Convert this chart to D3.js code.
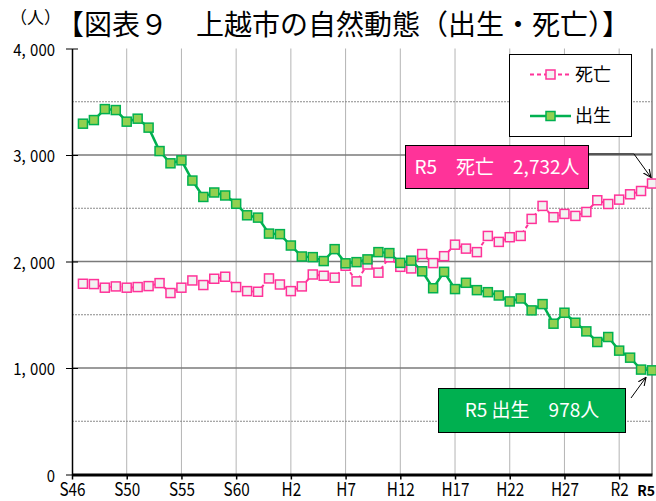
<!DOCTYPE html>
<html><head><meta charset="utf-8">
<script src="https://cdn.jsdelivr.net/npm/d3@7"></script>
<style>
body{margin:0;background:#fff}
svg{display:block}
text{font-family:"Noto Sans CJK JP","Noto Sans",sans-serif}
</style>
</head><body>
<svg id="c" width="656" height="501"></svg>
<script>
const years = [1971,1972,1973,1974,1975,1976,1977,1978,1979,1980,1981,1982,1983,1984,1985,1986,1987,1988,1989,1990,1991,1992,1993,1994,1995,1996,1997,1998,1999,2000,2001,2002,2003,2004,2005,2006,2007,2008,2009,2010,2011,2012,2013,2014,2015,2016,2017,2018,2019,2020,2021,2022,2023];
const births = [3294,3328,3431,3422,3313,3341,3257,3037,2922,2950,2760,2606,2648,2620,2542,2434,2412,2262,2257,2150,2047,2041,2004,2116,1983,1994,2020,2088,2079,1987,2008,1908,1749,1903,1741,1800,1731,1712,1681,1625,1653,1541,1600,1416,1519,1425,1344,1244,1291,1163,1097,985,978];
const deaths = [1791,1788,1754,1766,1754,1760,1769,1797,1704,1754,1822,1779,1838,1857,1760,1722,1716,1841,1784,1722,1766,1878,1866,1848,1960,1813,1972,1895,2040,1950,1935,2070,1985,2050,2158,2121,2088,2240,2184,2228,2240,2400,2522,2416,2447,2428,2465,2575,2540,2581,2631,2662,2732];
const xTickYears = [1970,1975,1980,1985,1990,1995,2000,2005,2010,2015,2020,2023];
const xTickLabels = ["S46","S50","S55","S60","H2","H7","H12","H17","H22","H27","R2","R5"];
const yTicks = [0,1000,2000,3000,4000];
const yMinor = [500,1500,2500,3500];
const seriesNames = ["死亡","出生"];

const PINK = "#FF3399", GREEN = "#00B050", LGREEN = "#92D050";
const svg = d3.select("#c");
const x = d3.scaleLinear().domain([1970, 2023]).range([72, 652]);
const y = d3.scaleLinear().domain([0, 4000]).range([474.5, 48.5]);
const fmt = d3.format(",");

// defs
const defs = svg.append("defs");
defs.append("marker").attr("id","arr").attr("viewBox","0 0 10 10").attr("refX",9).attr("refY",5)
  .attr("markerWidth",9).attr("markerHeight",9).attr("markerUnits","userSpaceOnUse").attr("orient","auto")
  .append("path").attr("d","M0,1 L9,5 L0,9").attr("fill","none").attr("stroke","#000").attr("stroke-width",1.2);

// vertical gridlines
svg.append("g").selectAll("line").data(xTickYears.filter(d => d > 1970 && d < 2023)).join("line")
  .attr("x1", d => x(d)).attr("x2", d => x(d)).attr("y1", y(4000)).attr("y2", y(0))
  .attr("stroke", "#b4b4b4").attr("stroke-width", 1);
// minor dotted
svg.append("g").selectAll("line").data(yMinor).join("line")
  .attr("x1", x(1970)).attr("x2", x(2023)).attr("y1", d => y(d)).attr("y2", d => y(d))
  .attr("stroke", "#8a8a8a").attr("stroke-width", 1).attr("stroke-dasharray", "2,1");
// major
svg.append("g").selectAll("line").data(yTicks.filter(d => d > 0 && d < 4000)).join("line")
  .attr("x1", x(1970)).attr("x2", x(2023)).attr("y1", d => y(d)).attr("y2", d => y(d))
  .attr("stroke", "#7a7a7a").attr("stroke-width", 1.5);
// right border
svg.append("line").attr("x1", x(2023)).attr("x2", x(2023)).attr("y1", y(4000)).attr("y2", y(0))
  .attr("stroke", "#808080").attr("stroke-width", 1.5);

// y axis
const yAxis = d3.axisLeft(y).tickValues(yTicks).tickSizeInner(6).tickSizeOuter(0).tickPadding(11)
  .tickFormat(d => fmt(d));
const gy = svg.append("g").attr("transform", `translate(${x(1970)},0)`).call(yAxis);
gy.select(".domain").attr("stroke", "#000").attr("stroke-width", 1.5);
gy.selectAll(".tick line").attr("x2", -6).attr("x1", 6).attr("stroke", "#000").attr("stroke-width", 1);
gy.selectAll(".tick text").attr("font-size", 17).attr("fill", "#000")
  .attr("x", -17 / 0.88).attr("dy", "0.4em").attr("transform", "scale(0.88,1)")
  .each(function(d){
    const s = fmt(d); const el = d3.select(this); el.text(null);
    const parts = s.split(",");
    if (parts.length > 1) {
      el.append("tspan").text(parts[0] + ",");
      el.append("tspan").attr("dx", 5).text(parts[1]);
    } else el.text(s);
  });

// x axis
const xAxis = d3.axisBottom(x).tickValues(xTickYears.slice(0, -1)).tickSizeInner(5).tickSizeOuter(0)
  .tickFormat((d, i) => xTickLabels[i]).tickPadding(4);
const gx = svg.append("g").attr("transform", `translate(0,${y(0)})`).call(xAxis);
gx.select(".domain").attr("stroke", "#000").attr("stroke-width", 3);
gx.selectAll(".tick line").attr("stroke", "#000").attr("stroke-width", 1.5);
gx.selectAll(".tick text").attr("font-size", 18).attr("fill", "#000").attr("transform", "scale(0.85,1)");
svg.append("text").attr("x", 655).attr("y", 496).attr("text-anchor", "end")
  .attr("font-size", 14).attr("font-weight", "bold").text(xTickLabels[xTickLabels.length - 1]);

// lines
const line = vals => d3.line().x((d, i) => x(years[i])).y(d => y(d))(vals);
svg.append("path").attr("d", line(deaths)).attr("fill", "none").attr("stroke", PINK)
  .attr("stroke-width", 2).attr("stroke-dasharray", "4,3");
svg.append("g").selectAll("rect").data(deaths).join("rect")
  .attr("x", (d, i) => x(years[i]) - 4.5).attr("y", d => y(d) - 4.5).attr("width", 9).attr("height", 9)
  .attr("fill", "#F2F2F2").attr("stroke", PINK).attr("stroke-width", 1.5);
svg.append("path").attr("d", line(births)).attr("fill", "none").attr("stroke", GREEN).attr("stroke-width", 2.5);
svg.append("g").selectAll("rect").data(births).join("rect")
  .attr("x", (d, i) => x(years[i]) - 4.5).attr("y", d => y(d) - 4.5).attr("width", 9).attr("height", 9)
  .attr("fill", LGREEN).attr("stroke", GREEN).attr("stroke-width", 1.5);

// legend
const lg = svg.append("g");
lg.append("rect").attr("x", 509.5).attr("y", 54.5).attr("width", 122).attr("height", 82)
  .attr("fill", "#fff").attr("stroke", "#000").attr("stroke-width", 1);
const legItems = [
  {name: seriesNames[0], y: 74.5, stroke: PINK, fill: "#F2F2F2", dash: "4,3", w: 2},
  {name: seriesNames[1], y: 116, stroke: GREEN, fill: LGREEN, dash: null, w: 2.5}
];
legItems.forEach(it => {
  lg.append("line").attr("x1", 530).attr("x2", 571).attr("y1", it.y).attr("y2", it.y)
    .attr("stroke", it.stroke).attr("stroke-width", it.w).attr("stroke-dasharray", it.dash);
  lg.append("rect").attr("x", 546).attr("y", it.y - 4.5).attr("width", 9).attr("height", 9)
    .attr("fill", it.fill).attr("stroke", it.stroke).attr("stroke-width", 1.5);
  lg.append("text").attr("x", 575).attr("y", it.y).attr("dy", "0.36em").attr("font-size", 18).text(it.name);
});

// callouts
const last = years.length - 1;
svg.append("line").attr("x1", 588).attr("x2", 634).attr("y1", 154).attr("y2", 154).attr("stroke", "#555").attr("stroke-width", 2);
svg.append("line").attr("x1", 634).attr("x2", x(2023)).attr("y1", 154).attr("y2", 154).attr("stroke", "#222").attr("stroke-width", 1);
svg.append("line").attr("x1", 634).attr("y1", 154).attr("x2", x(years[last]) - 1).attr("y2", y(deaths[last]) - 6)
  .attr("stroke", "#000").attr("stroke-width", 1).attr("marker-end", "url(#arr)");
svg.append("rect").attr("x", 405.5).attr("y", 145.5).attr("width", 183).attr("height", 43)
  .attr("fill", PINK).attr("stroke", "#000").attr("stroke-width", 1);
svg.append("text").attr("x", 497).attr("y", 167).attr("dy", "0.35em").attr("text-anchor", "middle")
  .attr("font-size", 19).attr("fill", "#fff").text(`R5　${seriesNames[0]}　${fmt(deaths[last])}人`);

svg.append("rect").attr("x", 438.5).attr("y", 388.5).attr("width", 187).attr("height", 44)
  .attr("fill", GREEN).attr("stroke", "#000").attr("stroke-width", 1);
svg.append("text").attr("x", 532).attr("y", 410.5).attr("dy", "0.35em").attr("text-anchor", "middle")
  .attr("font-size", 19).attr("fill", "#fff").text(`R5 ${seriesNames[1]}　${fmt(births[last])}人`);
svg.append("line").attr("x1", 631).attr("y1", 398).attr("x2", x(years[last]) - 6).attr("y2", y(births[last]) + 7)
  .attr("stroke", "#000").attr("stroke-width", 1).attr("marker-end", "url(#arr)");

// titles
svg.append("text").attr("x", 10).attr("y", 18).attr("dy", "0.35em").attr("font-size", 17).text("（人）");
svg.append("text").attr("x", 56).attr("y", 25).attr("dy", "0.35em").attr("font-size", 28)
  .text("【図表９　上越市の自然動態（出生・死亡）】");
</script>
</body></html>
